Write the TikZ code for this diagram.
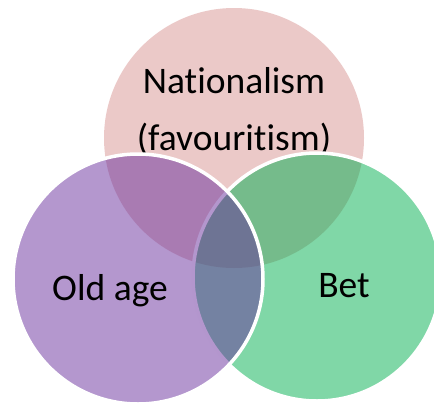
\documentclass[tikz,border=0pt]{standalone}
\usepackage{fontspec}
\setmainfont[Ligatures=NoCommon]{Carlito}
\definecolor{nationpink}{RGB}{215, 147, 145}
\definecolor{agepurple}{RGB}{105, 47, 157}
\definecolor{betgreen}{RGB}{1, 175, 79}
\usetikzlibrary{positioning}

\begin{document}
\begin{tikzpicture}[x=1pt, y=-1pt,
    venn/.style={circle, inner sep=0pt, fill opacity=0.5},
    rimmed/.style={draw=white, line width=3.5pt},
    label/.style={anchor=base, font=\fontsize{37.5}{44}\selectfont, text=black}]
  % Canvas
  \useasboundingbox (0, 0) rectangle (434, 402);
  \clip (0, 0) rectangle (434, 402);

  % Top set
  \node[venn, fill=nationpink, minimum size=260pt] (nation) at (234, 138) {};
  \node[label] (nationtop) at (234, 93) {Nationalism};
  \node[label] (nationbot) at (234, 150) {(favouritism)};

  % Lower sets
  \node[venn, rimmed, fill=betgreen, minimum size=248pt] (bet) at (317, 277) {};
  \node[venn, rimmed, fill=agepurple, minimum size=250pt] (oldage) at (138, 279) {};

  % Labels
  \node[label] (oldagetext) at (110, 300) {Old age};
  \node[label] (bettext) at (344, 297) {Bet};
\end{tikzpicture}
\end{document}
